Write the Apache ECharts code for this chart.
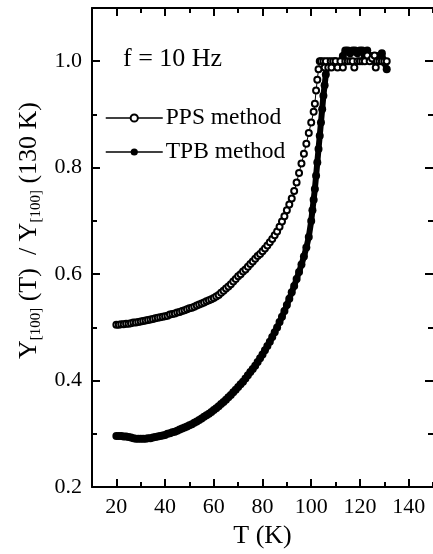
<!DOCTYPE html>
<html>
<head>
<meta charset="utf-8">
<script src="https://cdn.jsdelivr.net/npm/echarts@6.0.0/dist/echarts.min.js"></script>
<style>
  html, body { margin: 0; padding: 0; background: #fff; }
  #main { width: 433px; height: 554px; }
</style>
</head>
<body>
<div id="main"></div>
<script>
  // tick positions
  const xMajor = [20, 40, 60, 80, 100, 120, 140];
  const xMinor = [30, 50, 70, 90, 110, 130, 150];
  const yMajor = [0.2, 0.4, 0.6, 0.8, 1.0];
  const yMinor = [0.3, 0.5, 0.7, 0.9, 1.1];

  // PPS method (open circles)
  const tPPS = [20, 21, 22, 23, 24, 25, 26, 27, 28, 29, 30, 31, 32, 33, 34, 35, 36, 37, 38, 39,
    40, 41, 42, 43, 44, 45, 46, 47, 48, 49, 50, 51, 52, 53, 54, 55, 56, 57, 58, 59,
    60, 61, 62, 63, 64, 65, 66, 67, 68, 69, 70, 71, 72, 73, 74, 75, 76, 77, 78, 79,
    80, 81, 82, 83, 84, 85, 86, 87, 88, 89, 90, 91, 92, 93, 94, 95, 96, 97, 98, 99,
    100, 101, 101.5, 102, 102.5, 103, 103.5,
    104, 105, 105.5, 106, 107, 108, 108.3, 109, 110, 110.8, 112, 113, 114, 115, 116, 117, 117.7,
    119, 120, 121, 122, 123, 124, 125, 126, 126.5, 127, 128, 129, 130, 131];
  const yPPS = [0.505, 0.505, 0.506, 0.506, 0.507, 0.507, 0.508, 0.509, 0.509, 0.510, 0.511, 0.512, 0.513, 0.514, 0.515, 0.516, 0.517, 0.518, 0.519, 0.520,
    0.521, 0.522, 0.524, 0.525, 0.526, 0.528, 0.529, 0.531, 0.532, 0.534, 0.536, 0.537, 0.539, 0.541, 0.543, 0.545, 0.547, 0.549, 0.551, 0.553,
    0.555, 0.558, 0.561, 0.565, 0.569, 0.573, 0.577, 0.581, 0.586, 0.591, 0.596, 0.600, 0.605, 0.609, 0.614, 0.619, 0.624, 0.629, 0.634, 0.638,
    0.643, 0.648, 0.654, 0.660, 0.666, 0.673, 0.680, 0.689, 0.699, 0.709, 0.720, 0.731, 0.742, 0.756, 0.772, 0.790, 0.808, 0.826, 0.845, 0.865,
    0.885, 0.905, 0.920, 0.945, 0.965, 0.985, 1.000,
    1.000, 1.000, 0.988, 1.000, 0.988, 1.000, 0.988, 1.000, 1.000, 0.988, 1.000, 0.988, 1.000, 1.000, 1.000, 1.000, 0.988,
    1.000, 1.000, 1.000, 1.000, 1.011, 1.000, 1.005, 1.011, 0.988, 1.000, 1.000, 1.000, 1.000, 1.000];

  // TPB method (filled circles)
  const tTPB = [20, 21, 22, 23, 24, 25, 26, 27, 28, 29, 30, 31, 32, 33, 34, 35, 36, 37, 38, 39,
    40, 41, 42, 43, 44, 45, 46, 47, 48, 49, 50, 51, 52, 53, 54, 55, 56, 57, 58, 59,
    60, 61, 62, 63, 64, 65, 66, 67, 68, 69, 70, 71, 72, 73, 74, 75, 76, 77, 78, 79,
    80, 81, 82, 83, 84, 85, 86, 87, 88, 89, 90, 91, 92, 93, 94, 95, 96, 97, 98, 99,
    100, 100.5, 101, 101.5, 102, 102.5, 103, 103.5, 104, 104.5, 105, 105.5, 106, 106.5, 107,
    108, 109, 110, 111, 112, 113, 114, 115, 116, 117, 118, 119, 120, 121, 122, 123, 124, 125,
    126, 127, 128, 129, 130, 131];
  const yTPB = [0.296, 0.296, 0.296, 0.295, 0.295, 0.294, 0.293, 0.292, 0.291, 0.291, 0.291, 0.291, 0.291, 0.292, 0.292, 0.293, 0.294, 0.295, 0.296, 0.297,
    0.298, 0.300, 0.301, 0.303, 0.304, 0.306, 0.308, 0.310, 0.312, 0.314, 0.316, 0.318, 0.321, 0.323, 0.326, 0.329, 0.332, 0.335, 0.338, 0.341,
    0.345, 0.348, 0.352, 0.356, 0.360, 0.364, 0.369, 0.373, 0.378, 0.383, 0.388, 0.393, 0.398, 0.404, 0.410, 0.416, 0.422, 0.428, 0.435, 0.442,
    0.449, 0.457, 0.465, 0.473, 0.482, 0.491, 0.500, 0.510, 0.520, 0.531, 0.542, 0.554, 0.566, 0.578, 0.591, 0.604, 0.618, 0.633, 0.650, 0.670,
    0.700, 0.720, 0.740, 0.760, 0.785, 0.810, 0.835, 0.860, 0.885, 0.910, 0.935, 0.955, 0.975, 0.990, 1.000,
    0.995, 0.995, 1.000, 0.995, 1.000, 1.010, 1.020, 1.020, 1.015, 1.020, 1.020, 1.015, 1.020, 1.020, 1.010, 1.020, 1.005, 1.010,
    1.000, 1.010, 1.005, 1.015, 0.998, 0.985];

  const serif = '"Liberation Serif", "Times New Roman", serif';

  function pairs(xs, ys) {
    return xs.map((x, i) => [x, ys[i]]);
  }

  const myChart = echarts.init(document.getElementById('main'));

  const axisLine = { show: true, lineStyle: { color: '#000', width: 2 } };
  const tickMajor = (vals) => ({ show: true, inside: true, length: 8, customValues: vals, lineStyle: { color: '#000', width: 2 } });
  const tickMinor = (vals) => ({ show: true, inside: true, length: 5, customValues: vals, lineStyle: { color: '#000', width: 2 } });

  myChart.setOption({
    animation: false,
    grid: { left: 92, right: -1, top: 8, bottom: 65 },
    graphic: [
      {
        type: 'text', left: 123, top: 46,
        style: { text: 'f = 10 Hz', font: '26px ' + serif, fill: '#000' }
      }
    ],
    legend: {
      data: ['PPS method', 'TPB method'],
      orient: 'vertical',
      left: 105, top: 106,
      padding: 0,
      itemWidth: 57, itemHeight: 9, itemGap: 10,
      lineStyle: { width: 1.5, color: '#000' },
      textStyle: { fontFamily: serif, fontSize: 23.5, color: '#000', padding: [0, 0, 0, -2] }
    },
    xAxis: [
      {
        type: 'value', min: 10, max: 150, position: 'bottom',
        axisLine: axisLine, axisTick: tickMajor(xMajor), splitLine: { show: false },
        axisLabel: { customValues: xMajor, margin: 9, color: '#000', fontFamily: serif, fontSize: 22 },
        name: 'T (K)', nameLocation: 'middle', nameGap: 34,
        nameTextStyle: { fontFamily: serif, fontSize: 26, color: '#000' }
      },
      {
        type: 'value', min: 10, max: 150, position: 'bottom',
        axisLine: { show: false }, axisTick: tickMinor(xMinor), axisLabel: { show: false }, splitLine: { show: false }
      },
      {
        type: 'value', min: 10, max: 150, position: 'top',
        axisLine: axisLine, axisTick: tickMajor(xMajor), axisLabel: { show: false }, splitLine: { show: false }
      },
      {
        type: 'value', min: 10, max: 150, position: 'top',
        axisLine: { show: false }, axisTick: tickMinor(xMinor), axisLabel: { show: false }, splitLine: { show: false }
      }
    ],
    yAxis: [
      {
        type: 'value', min: 0.2, max: 1.1, position: 'left',
        axisLine: axisLine, axisTick: tickMajor(yMajor), splitLine: { show: false },
        axisLabel: {
          customValues: yMajor, margin: 10, color: '#000', fontFamily: serif, fontSize: 22,
          formatter: (v) => v.toFixed(1)
        },
        name: '{m|Y}{s|[100]}{m| (T)  / Y}{s|[100]}{m| (130 K)}',
        nameLocation: 'middle', nameRotate: 90, nameGap: 46,
        nameTextStyle: {
          padding: [0, 0, 0, 34],
          rich: {
            m: { fontFamily: serif, fontSize: 26, color: '#000' },
            s: { fontFamily: serif, fontSize: 15, color: '#000', padding: [14, 0, 0, 0] }
          }
        }
      },
      {
        type: 'value', min: 0.2, max: 1.1, position: 'left',
        axisLine: { show: false }, axisTick: tickMinor(yMinor), axisLabel: { show: false }, splitLine: { show: false }
      },
      {
        type: 'value', min: 0.2, max: 1.1, position: 'right',
        axisLine: { show: false }, axisTick: tickMajor(yMajor), axisLabel: { show: false }, splitLine: { show: false }
      },
      {
        type: 'value', min: 0.2, max: 1.1, position: 'right',
        axisLine: { show: false }, axisTick: tickMinor(yMinor), axisLabel: { show: false }, splitLine: { show: false }
      }
    ],
    series: [
      {
        name: 'TPB method', type: 'line', data: pairs(tTPB, yTPB),
        symbol: 'circle', symbolSize: 8,
        itemStyle: { color: '#000' },
        lineStyle: { color: '#000', width: 6 }
      },
      {
        name: 'PPS method', type: 'line', data: pairs(tPPS, yPPS),
        symbol: 'emptyCircle', symbolSize: 6,
        itemStyle: { color: '#000', borderColor: '#000', borderWidth: 1 },
        lineStyle: { color: '#000', width: 1 }
      }
    ]
  });
</script>
</body>
</html>
